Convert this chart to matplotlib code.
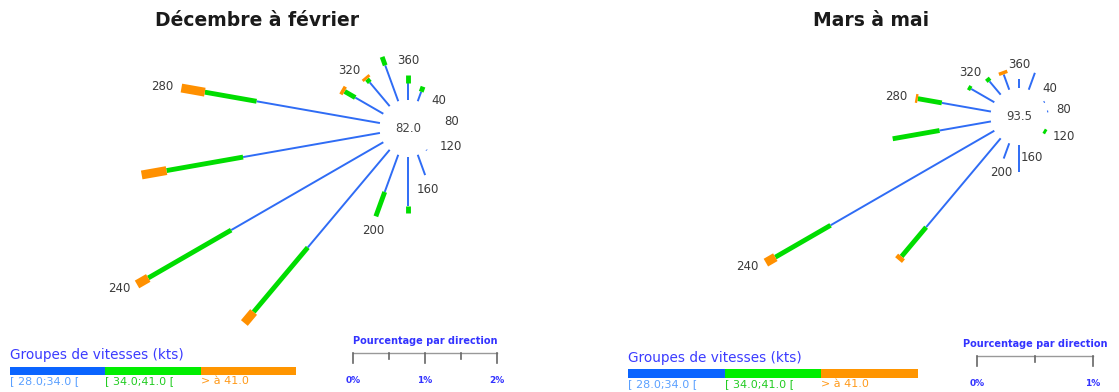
import numpy as np
import matplotlib.pyplot as plt
from matplotlib.patches import Rectangle

# wind directions (degrees, clockwise from north)
directions = np.arange(0, 360, 20)

# percentage of observations per direction and speed group
dec_blue = [0.23, 0.14, 0, 0, 0, 0, 0, 0.01, 0.30, 0.69, 0.55, 1.77, 2.44, 1.93, 1.74, 0.45, 0.43, 0.53]
dec_green = [0.11, 0.075, 0, 0, 0, 0, 0, 0, 0, 0.10, 0.36, 1.17, 1.33, 1.08, 0.73, 0.17, 0.06, 0.125]
dec_orange = [0, 0, 0, 0, 0, 0, 0, 0, 0, 0, 0, 0.20, 0.18, 0.35, 0.33, 0.05, 0.04, 0]
dec_calm = 82.0

mar_blue = [0.08, 0.155, 0, 0.01, 0.01, 0, 0, 0, 0, 0.23, 0.14, 1.00, 1.63, 0.45, 0.43, 0.23, 0.15, 0.14]
mar_green = [0, 0, 0, 0, 0, 0, 0.025, 0, 0, 0, 0, 0.33, 0.55, 0.41, 0.21, 0.03, 0.035, 0]
mar_orange = [0, 0, 0, 0, 0, 0, 0, 0, 0, 0, 0, 0.04, 0.094, 0, 0.02, 0, 0, 0.03]
mar_calm = 93.5

group_labels = ['[ 28.0;34.0 [', '[ 34.0;41.0 [', '> à 41.0']
group_colors = ['#2f6cf5', '#00dd00', '#ff9000']
legend_colors = ['#0a64ff', '#00ee00', '#ff9500']
label_colors = ['#5aa0ff', '#22cc22', '#ff9a1a']
group_widths = [1.4, 3.5, 6.4]
label_dirs = [40, 80, 120, 160, 200, 240, 280, 320, 360]

W, H = 1119, 392
HOLE = 28.5  # px, radius of the calm circle
fig = plt.figure(figsize=(W / 100, H / 100), dpi=100)


def draw_rose(x0, x1, cx, cy, scale, groups, calm, bar_max, bar_px):
    ax = fig.add_axes([x0 / W, 0, (x1 - x0) / W, 1])
    ax.set_xlim((x0 - cx) / scale, (x1 - cx) / scale)
    ax.set_ylim((cy - H) / scale, cy / scale)
    ax.axis('off')
    r0 = HOLE / scale
    th = np.radians(directions)
    ux, uy = np.sin(th), np.cos(th)
    cum = np.zeros(len(directions))
    for vals, col, lw in zip(groups, group_colors, group_widths):
        vals = np.array(vals, dtype=float)
        for i in range(len(directions)):
            if vals[i] <= 0:
                continue
            a, b = r0 + cum[i], r0 + cum[i] + vals[i]
            ax.plot([a * ux[i], b * ux[i]], [a * uy[i], b * uy[i]], color=col,
                    lw=lw, solid_capstyle='butt')
        cum += vals

    # direction labels just beyond the tip of each spoke
    for d in label_dirs:
        i = list(directions).index(d % 360)
        r = r0 + cum[i] + 8 / scale
        s, c = ux[i], uy[i]
        if abs(s) > 0.5:
            ha, va = ('left' if s > 0 else 'right'), 'center'
        else:
            ha, va = 'center', ('bottom' if c > 0 else 'top')
        ax.text(r * s, r * c, str(d), ha=ha, va=va, fontsize=8.5, color='#3a3a3a')
    ax.text(0, 0, f'{calm:.1f}', ha='center', va='center', fontsize=8.5, color='#444444')

    # percentage scale bar, drawn in the same data units as the spokes
    bx, by = (bar_px[0] - cx) / scale, (cy - bar_px[1]) / scale
    ax.plot([bx, bx + bar_max], [by, by], color='#999999', lw=1)
    for k in np.arange(0, bar_max + 0.01, 0.5):
        major = abs(k - round(k)) < 1e-6
        tl = (10 if major else 6) / scale
        ax.plot([bx + k, bx + k], [by, by - tl], color='#666666', lw=1.2)
        if major:
            ax.text(bx + k, by - 27 / scale, f'{int(k)}%', ha='center', va='center',
                    fontsize=6.5, fontweight='bold', color='#3333ff')
    ax.text(bx + bar_max / 2, by + 12 / scale, 'Pourcentage par direction', ha='center',
            va='center', fontsize=7, fontweight='bold', color='#3333ff')
    return ax


def draw_legend(x, y_title, y_bar, bar_h, seg_w, y_lab):
    fig.text(x / W, 1 - y_title / H, 'Groupes de vitesses (kts)', ha='left', va='center',
             fontsize=9.8, color='#3b3bff')
    for j, (lab, col, lcol) in enumerate(zip(group_labels, legend_colors, label_colors)):
        fig.add_artist(Rectangle(((x + j * seg_w) / W, 1 - (y_bar + bar_h) / H),
                                 seg_w / W, bar_h / H, transform=fig.transFigure,
                                 color=col, lw=0))
        fig.text((x + j * seg_w) / W, 1 - y_lab / H, lab, ha='left', va='center',
                 fontsize=8, color=lcol)


draw_rose(0, 560, 408, 128, 72, [dec_blue, dec_green, dec_orange], dec_calm, 2, (353, 353))
draw_rose(560, 1119, 1019, 116.5, 116, [mar_blue, mar_green, mar_orange], mar_calm, 1, (977, 356))

fig.text(257 / W, 1 - 20 / H, 'Décembre à février', ha='center', va='center',
         fontsize=13.5, fontweight='bold', color='#1a1a1a')
fig.text(871 / W, 1 - 20 / H, 'Mars à mai', ha='center', va='center',
         fontsize=13.5, fontweight='bold', color='#1a1a1a')

draw_legend(10, 355, 367, 7.5, 95.3, 381)
draw_legend(628, 358, 369, 9, 96.7, 384)

fig.savefig('out.png', dpi=100)
